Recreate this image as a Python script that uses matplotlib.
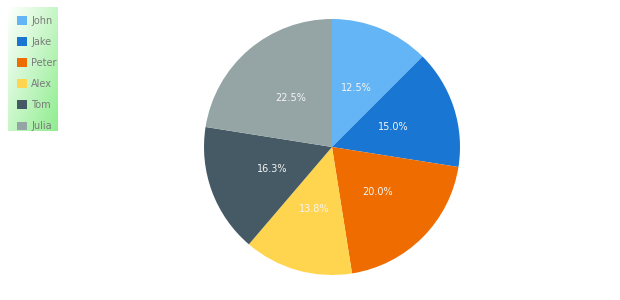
import numpy as np
import matplotlib.pyplot as plt
from matplotlib.patches import Patch

# Data
names = ['John', 'Jake', 'Peter', 'Alex', 'Tom', 'Julia']
values = [10, 12, 16, 11, 13, 18]
colors = ['#64B5F6', '#1976D2', '#EF6C00', '#FFD54F', '#455A64', '#95A5A6']

fig = plt.figure(figsize=(6.2, 3.0), dpi=100)
fig.patch.set_facecolor('white')


def pct_label(p):
    # round half up so 16.25 shows as 16.3
    return f'{np.floor(p * 10 + 0.5 + 1e-6) / 10:.1f}%'


# Pie
ax = fig.add_axes([(332 - 128) / 620, 1 - (147 + 128) / 300, 256 / 620, 256 / 300])
wedges, texts, autotexts = ax.pie(values, colors=colors, startangle=90, counterclock=False,
                                  autopct=pct_label, pctdistance=0.5,
                                  wedgeprops=dict(linewidth=0),
                                  textprops=dict(color='#f4f4f4', fontsize=7))
ax.set_xlim(-1, 1)
ax.set_ylim(-1, 1)
ax.set_aspect('equal')

# Legend background with a diagonal white-to-green gradient
lx, ly, lw, lh = 8, 7, 50, 124
lax = fig.add_axes([lx / 620, 1 - (ly + lh) / 300, lw / 620, lh / 300])
gx, gy = np.meshgrid(np.linspace(0, 1, 50), np.linspace(0, 1, 124))
grad = (gx + gy) / 2
white = np.array([1.0, 1.0, 1.0])
green = np.array([0.56, 0.93, 0.56])
img = white[None, None, :] * (1 - grad[..., None]) + green[None, None, :] * grad[..., None]
lax.imshow(img, aspect='auto', extent=[0, 1, 0, 1], origin='upper')
lax.set_axis_off()

handles = [Patch(facecolor=c, edgecolor='none') for c in colors]
fig.legend(handles, names, loc='upper left', bbox_to_anchor=(10 / 620, 1 - 9 / 300),
           frameon=False, fontsize=7, labelcolor='#7a7a7a',
           handlelength=1.0, handleheight=1.0, handletextpad=0.5,
           labelspacing=1.14, borderpad=0.2)

fig.savefig('out.png', dpi=100)
